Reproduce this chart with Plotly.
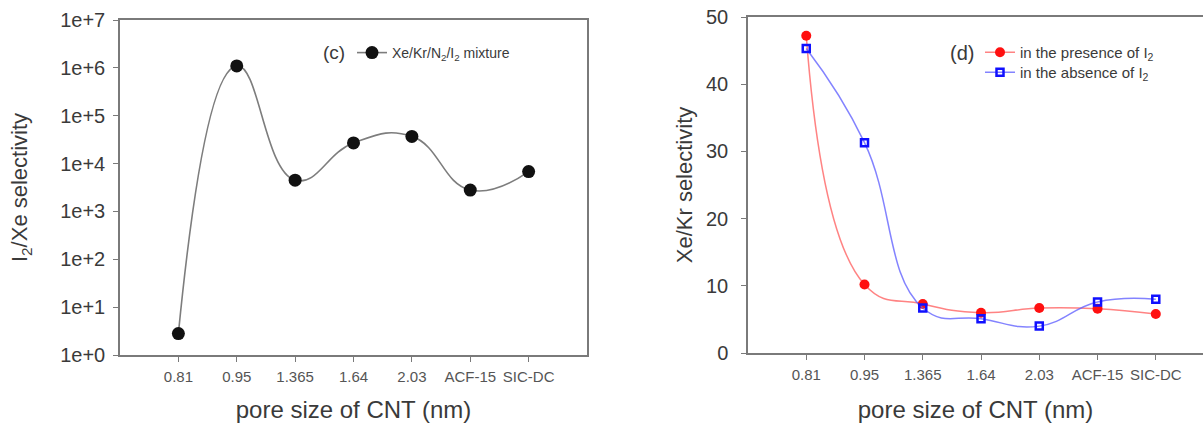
import plotly.graph_objects as go

categories = ["0.81", "0.95", "1.365", "1.64", "2.03", "ACF-15", "SIC-DC"]
i2_xe_selectivity = [2.8, 1.1e6, 4.5e3, 2.7e4, 3.7e4, 2.8e3, 6.8e3]
xe_kr_presence = [47.2, 10.2, 7.3, 6.0, 6.7, 6.6, 5.8]
xe_kr_absence = [45.3, 31.3, 6.7, 5.1, 4.0, 7.6, 8.0]
log_tickvals = [1, 10, 100, 1e3, 1e4, 1e5, 1e6, 1e7]
log_ticktext = ["1e+0", "1e+1", "1e+2", "1e+3", "1e+4", "1e+5", "1e+6", "1e+7"]
lin_tickvals = [0, 10, 20, 30, 40, 50]

W, H = 1203, 423
FONT = "Liberation Sans, Arial, sans-serif"
AX = "#7a7a7a"
TXT = "#3a3a3a"

idx = list(range(len(categories)))

fig = go.Figure()
fig.add_trace(go.Scatter(
    x=idx, y=i2_xe_selectivity, mode="lines+markers",
    line=dict(color="#7d7d7d", width=1.6, shape="spline", smoothing=1.3),
    marker=dict(color="#111111", size=13, symbol="circle"),
    name="Xe/Kr/N<sub>2</sub>/I<sub>2</sub> mixture", showlegend=True,
    xaxis="x", yaxis="y", legend="legend"))
fig.add_trace(go.Scatter(
    x=idx, y=xe_kr_presence, mode="lines+markers",
    line=dict(color="rgba(255,90,90,0.75)", width=1.5, shape="spline", smoothing=1.3),
    marker=dict(color="#ff1010", size=10, symbol="circle"),
    name="in the presence of I<sub>2</sub>", showlegend=True,
    xaxis="x2", yaxis="y2", legend="legend2"))
fig.add_trace(go.Scatter(
    x=idx, y=xe_kr_absence, mode="lines+markers",
    line=dict(color="rgba(90,90,255,0.75)", width=1.5, shape="spline", smoothing=1.3),
    marker=dict(color="#1010ff", size=7, symbol="square-open", line=dict(width=2.5, color="#1010ff")),
    name="in the absence of I<sub>2</sub>", showlegend=True,
    xaxis="x2", yaxis="y2", legend="legend3"))

common_x = dict(
    tickmode="array", tickvals=idx, ticktext=categories,
    showline=True, linecolor=AX, linewidth=1.5, ticks="outside", ticklen=5, tickcolor=AX,
    showgrid=False, zeroline=False, automargin=False, ticklabelstandoff=2,
    tickfont=dict(size=15, color="#555555", family=FONT),
    title=dict(text="pore size of CNT (nm)", font=dict(size=24, color=TXT, family=FONT), standoff=30),
)

def leg(x, ytop, size):
    return dict(x=x / W, y=1 - ytop / H, xanchor="left", yanchor="top", visible=True,
                bgcolor="rgba(0,0,0,0)", font=dict(size=size, color=TXT, family=FONT),
                itemwidth=30, tracegroupgap=0)

fig.update_layout(
    width=W, height=H,
    margin=dict(l=0, r=0, t=0, b=0, autoexpand=False),
    paper_bgcolor="white", plot_bgcolor="white",
    font=dict(family=FONT, color=TXT),
    showlegend=True,
    xaxis=dict(domain=[120 / W, 587 / W], range=[-1, 7], mirror=True, anchor="y", **common_x),
    yaxis=dict(domain=[1 - 355 / H, 1 - 20 / H], type="log", range=[0, 7],
               tickmode="array", tickvals=log_tickvals, ticktext=log_ticktext,
               showline=True, linecolor=AX, linewidth=1.5, mirror=True,
               ticks="outside", ticklen=5, tickcolor=AX, showgrid=False, zeroline=False,
               ticklabelstandoff=4, automargin=False,
               tickfont=dict(size=20, color=TXT, family=FONT), anchor="x",
               title=dict(text="I<sub>2</sub>/Xe selectivity", font=dict(size=22, color=TXT, family=FONT), standoff=26)),
    xaxis2=dict(domain=[748 / W, 1.0], range=[-1, (1203 - 808) / 58.0], mirror=True, anchor="y2", **common_x),
    yaxis2=dict(domain=[1 - 353 / H, 1 - 17 / H], range=[0, 50],
                tickmode="array", tickvals=lin_tickvals,
                showline=True, linecolor=AX, linewidth=1.5, mirror=False,
                ticks="outside", ticklen=5, tickcolor=AX, showgrid=False, zeroline=False,
                ticklabelstandoff=9, automargin=False,
                tickfont=dict(size=20, color=TXT, family=FONT), anchor="x2",
                title=dict(text="Xe/Kr selectivity", font=dict(size=22, color=TXT, family=FONT), standoff=7)),
    legend=leg(352, 37, 14),
    legend2=leg(980, 36, 15),
    legend3=leg(980, 56, 15),
    annotations=[
        dict(text="(c)", x=334 / W, y=1 - 53 / H, xref="paper", yref="paper",
             xanchor="center", yanchor="middle",
             showarrow=False, font=dict(size=19, color=TXT, family=FONT)),
        dict(text="(d)", x=962 / W, y=1 - 53 / H, xref="paper", yref="paper",
             xanchor="center", yanchor="middle",
             showarrow=False, font=dict(size=20, color=TXT, family=FONT)),
    ],
)

fig.write_html("out.html", config={"displayModeBar": False},
               post_script="document.body.style.margin='0';document.body.style.overflow='hidden';")
